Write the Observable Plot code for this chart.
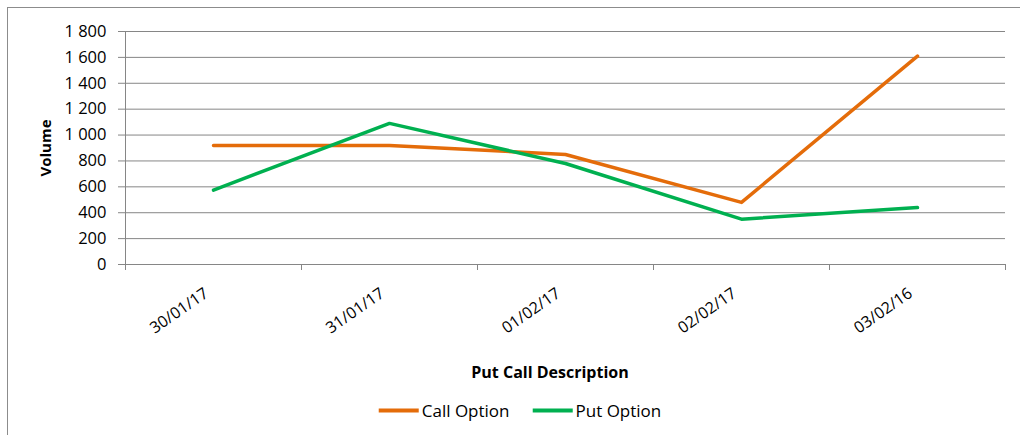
<!DOCTYPE html>
<html>
<head>
<meta charset="utf-8">
<script src="https://cdn.jsdelivr.net/npm/d3@7"></script>
<script src="https://cdn.jsdelivr.net/npm/@observablehq/plot@0.6"></script>
<style>
  html, body { margin: 0; padding: 0; background: #fff; width: 1020px; height: 435px; overflow: hidden; font-family: "Open Sans", Lato, sans-serif; color: #000; }
  #frame { position: absolute; left: 7px; top: 7px; width: 1200px; height: 700px; border: 1px solid #8c8c8c; }
  #chart { position: absolute; left: 0; top: 0; }
  #ylabel { position: absolute; left: 45px; top: 148px; transform: translate(-50%, -50%) rotate(-90deg); font-weight: bold; font-size: 15px; white-space: nowrap; }
  #xlabel { position: absolute; left: 550px; top: 372px; transform: translate(-50%, -50%); font-weight: bold; font-size: 16px; white-space: nowrap; }
  #legend { position: absolute; left: 520px; top: 410px; transform: translate(-50%, -50%); display: flex; gap: 23px; font-size: 17px; white-space: nowrap; }
  .item { display: flex; align-items: center; }
  .sw { width: 40px; height: 4px; margin-right: 3px; }
</style>
</head>
<body>
<div id="frame"></div>
<div id="chart"></div>
<div id="ylabel">Volume</div>
<div id="xlabel">Put Call Description</div>
<div id="legend"></div>
<script>
const dates = ["30/01/17", "31/01/17", "01/02/17", "02/02/17", "03/02/16"];
const callOption = [920, 920, 850, 480, 1610];
const putOption = [575, 1090, 780, 350, 440];
const seriesNames = ["Call Option", "Put Option"];
const seriesColors = ["#E46C0A", "#00B050"];
const yTicks = [0, 200, 400, 600, 800, 1000, 1200, 1400, 1600, 1800];

const rows = [];
dates.forEach((d, i) => {
  rows.push({date: d, value: callOption[i], series: seriesNames[0]});
  rows.push({date: d, value: putOption[i], series: seriesNames[1]});
});

const W = 1020, H = 390, mL = 125, mR = 15, mT = 31, mB = 126;
const step = (W - mL - mR) / dates.length;
const grid = "#868686";
const fmt = d => d3.format(",")(d).replace(/,/g, " ");

const chart = Plot.plot({
  width: W, height: H,
  marginLeft: mL, marginRight: mR, marginTop: mT, marginBottom: mB,
  style: {fontFamily: "'Open Sans', Lato, sans-serif", fontSize: "16px", color: "#000", background: "transparent"},
  x: {type: "point", domain: dates, padding: 0.5},
  y: {domain: [0, 1800]},
  color: {domain: seriesNames, range: seriesColors},
  marks: [
    Plot.gridY(yTicks, {stroke: grid, strokeOpacity: 1, strokeWidth: 1}),
    Plot.frame({anchor: "left", stroke: grid}),
    Plot.ruleX(dates, {x: d => d, y1: 0, y2: 0, insetBottom: -6, dx: -step / 2, stroke: grid}),
    Plot.ruleX(dates.slice(-1), {x: d => d, y1: 0, y2: 0, insetBottom: -6, dx: step / 2, stroke: grid}),
    Plot.axisY(yTicks, {tickSize: 7, tickPadding: 12, tickFormat: fmt, stroke: grid, label: null, fontSize: 16.5}),
    Plot.axisX({tickSize: 0, tickRotate: -35, tickPadding: 27, dx: -7, label: null, fontSize: 16}),
    Plot.line(rows, {x: "date", y: "value", z: "series", stroke: "series", strokeWidth: 3.5})
  ]
});
document.getElementById("chart").appendChild(chart);

const legend = document.getElementById("legend");
seriesNames.forEach((name, i) => {
  const it = document.createElement("div");
  it.className = "item";
  const sw = document.createElement("div");
  sw.className = "sw";
  sw.style.background = seriesColors[i];
  const tx = document.createElement("span");
  tx.textContent = name;
  it.appendChild(sw); it.appendChild(tx);
  legend.appendChild(it);
});
</script>
</body>
</html>
